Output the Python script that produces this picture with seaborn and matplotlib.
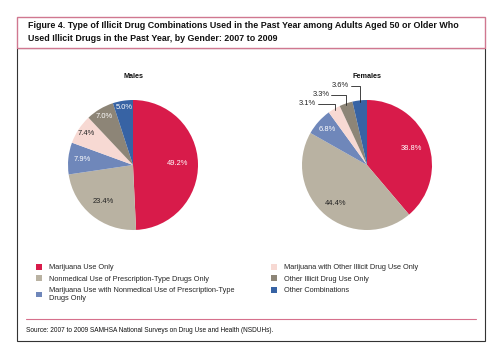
import numpy as np
import matplotlib
matplotlib.use("Agg")
import matplotlib.pyplot as plt
import matplotlib.patches as mpatches
import seaborn as sns

sns.set_style("white")
plt.rcParams['font.family'] = ['Liberation Sans', 'DejaVu Sans']

# data
categories = ['Marijuana Use Only',
              'Nonmedical Use of Prescription-Type Drugs Only',
              'Marijuana Use with Nonmedical Use of Prescription-Type\nDrugs Only',
              'Marijuana with Other Illicit Drug Use Only',
              'Other Illicit Drug Use Only',
              'Other Combinations']
males = [49.2, 23.4, 7.9, 7.4, 7.0, 5.0]
females = [38.8, 44.4, 6.8, 3.1, 3.3, 3.6]
panel_titles = ['Males', 'Females']

colors = ['#D81B4A', '#B9B2A2', '#6F87BA', '#F7D9D3', '#8D8577', '#3763A4']
txt_cols = ['white', '#222222', 'white', '#222222', 'white', 'white']

W, H = 500, 356
fig = plt.figure(figsize=(W / 100, H / 100), dpi=100)


def fx(px):
    return px / W


def fy(py):
    return 1 - py / H


# frame + title box
fig.patches.append(mpatches.Rectangle((fx(17), fy(341)), fx(468), 293 / H,
                                      transform=fig.transFigure, fill=False,
                                      edgecolor='#333333', lw=0.8))
fig.patches.append(mpatches.Rectangle((fx(17), fy(48)), fx(468), 31 / H,
                                      transform=fig.transFigure, facecolor='white',
                                      edgecolor='#D07890', lw=1.0))
fig.lines.append(plt.Line2D([fx(26), fx(476)], [fy(319), fy(319)],
                            transform=fig.transFigure, color='#D6708C', lw=0.8))

fig.text(fx(28), fy(32), 'Figure 4. Type of Illicit Drug Combinations Used in the Past Year among Adults Aged 50 or Older Who\n'
         'Used Illicit Drugs in the Past Year, by Gender: 2007 to 2009',
         fontsize=6.42, fontweight='bold', va='center', ha='left', linespacing=1.5, color='#111111')
fig.text(fx(26), fy(330), 'Source: 2007 to 2009 SAMHSA National Surveys on Drug Use and Health (NSDUHs).',
         fontsize=4.7, va='center', ha='left', color='#111111')

label_r = [[0.68, 0.73, 0.79, 0.87, 0.86, 0.89],
           [0.73, 0.76, 0.81, None, None, None]]
centers = [133, 367]
R = 65
for i, vals in enumerate([males, females]):
    cx = centers[i]
    ax = fig.add_axes([fx(cx - R), fy(165 + R), 2 * R / W, 2 * R / H])
    ax.pie(vals, colors=colors, startangle=90, counterclock=False,
           wedgeprops=dict(linewidth=0))
    ax.set_xlim(-1, 1)
    ax.set_ylim(-1, 1)
    ax.set_aspect('equal')
    ax.axis('off')
    fig.text(fx(cx), fy(76), panel_titles[i], fontsize=5.2, fontweight='bold',
             ha='center', va='center', color='#111111')
    total = sum(vals)
    cum = np.cumsum([0] + vals[:-1])
    for j, v in enumerate(vals):
        ang = np.deg2rad(90 - (cum[j] + v / 2) / total * 360)
        r = label_r[i][j]
        if r is None:
            continue
        ax.text(r * np.cos(ang), r * np.sin(ang), f'{v:.1f}%', ha='center', va='center',
                fontsize=5.4, color=txt_cols[j])
    if i == 1:
        # small slices labelled outside with leader lines: (slice, line length, label height)
        outside = [(3, 0.26, 0.94), (4, 0.23, 1.08), (5, 0.14, 1.22)]
        for j, ln, ly in outside:
            ang = np.deg2rad(90 - (cum[j] + vals[j] / 2) / total * 360)
            px, py = 0.98 * np.cos(ang), 0.98 * np.sin(ang)
            tx = px - ln
            ax.plot([tx, px, px], [ly, ly, py], color='#222222', lw=0.6, clip_on=False)
            ax.text(tx - 0.03, ly, f'{vals[j]:.1f}%', ha='right', va='center',
                    fontsize=5.4, color='#222222')

handles = [mpatches.Patch(facecolor=c, edgecolor='none') for c in colors]
leg_kw = dict(frameon=False, fontsize=5.3, handlelength=0.85, handleheight=0.85,
              handletextpad=0.9, labelspacing=0.55, borderaxespad=0, loc='upper left')
fig.legend(handles[:3], categories[:3], bbox_to_anchor=(fx(33), fy(261)), **leg_kw)
fig.legend(handles[3:], categories[3:], bbox_to_anchor=(fx(268), fy(261)), **leg_kw)

fig.savefig('out.png', dpi=100)
